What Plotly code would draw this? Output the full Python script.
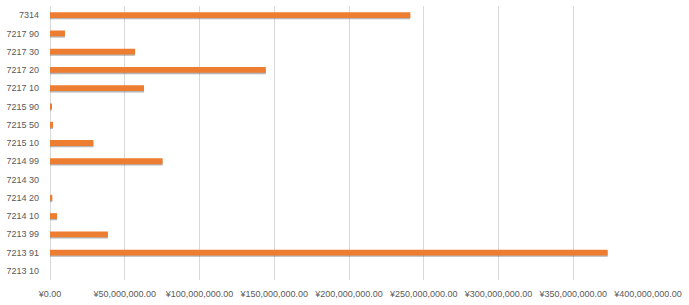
import plotly.graph_objects as go

categories = ["7213 10", "7213 91", "7213 99", "7214 10", "7214 20", "7214 30", "7214 99",
              "7215 10", "7215 50", "7215 90", "7217 10", "7217 20", "7217 30", "7217 90", "7314"]
values = [0, 373000000, 38700000, 4700000, 1500000, 0, 75300000,
          29000000, 2000000, 1000000, 62900000, 144300000, 56900000, 10000000, 241000000]
tick_vals = [0, 50e6, 100e6, 150e6, 200e6, 250e6, 300e6, 350e6, 400e6]
tick_text = ["¥0.00", "¥50,000,000.00", "¥100,000,000.00", "¥150,000,000.00", "¥200,000,000.00",
             "¥250,000,000.00", "¥300,000,000.00", "¥350,000,000.00", "¥400,000,000.00"]

fig = go.Figure()
# soft shadow below the bars
fig.add_trace(go.Bar(y=categories, x=values, orientation="h",
                     marker=dict(color="rgba(90,90,90,0.45)", line=dict(width=0)),
                     width=0.32, offset=-0.23, hoverinfo="skip", showlegend=False))
fig.add_trace(go.Bar(y=categories, x=values, orientation="h",
                     marker=dict(color="#ED7D31", line=dict(width=0)),
                     width=0.32, offset=-0.16, showlegend=False))

fig.update_layout(
    width=689, height=305, barmode="overlay",
    margin=dict(l=50, r=41, t=6, b=23),
    paper_bgcolor="white", plot_bgcolor="white",
    font=dict(family="Liberation Sans", size=9, color="#595959"),
    xaxis=dict(range=[0, 400e6], tickvals=tick_vals, ticktext=tick_text,
               showgrid=True, gridcolor="#d9d9d9", gridwidth=1,
               zeroline=True, zerolinecolor="#d9d9d9", zerolinewidth=1,
               showline=False, ticks="", ticklabelstandoff=7,
               tickfont=dict(size=9, color="#595959")),
    yaxis=dict(categoryorder="array", categoryarray=categories, showgrid=False,
               zeroline=False, showline=False, ticks="", ticklabelstandoff=10,
               tickfont=dict(size=9, color="#595959")),
)
fig.write_html("out.html")
